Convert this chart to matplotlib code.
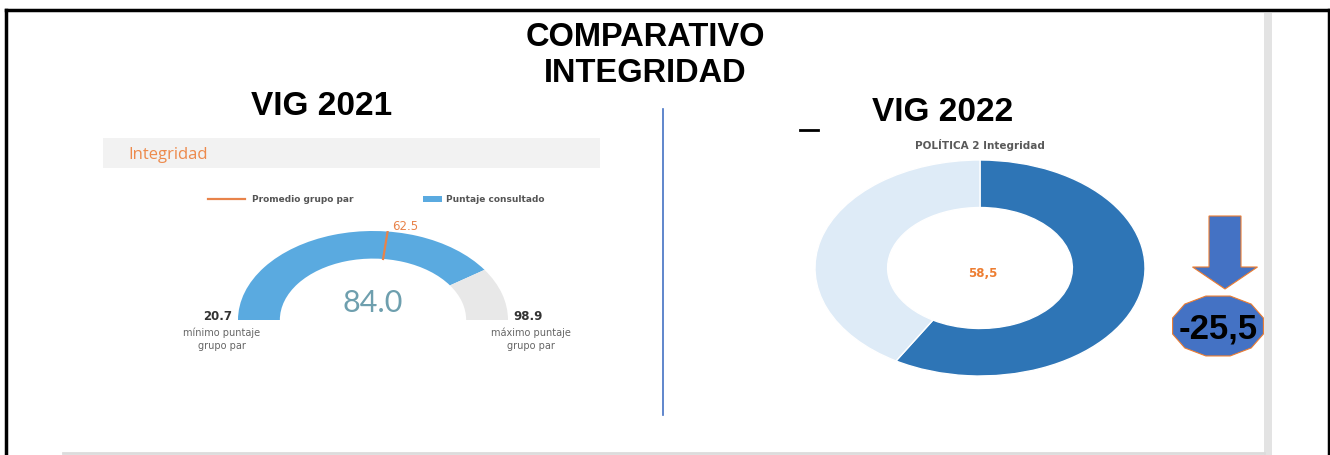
import numpy as np
import matplotlib
matplotlib.use("Agg")
import matplotlib.pyplot as plt
from matplotlib.patches import Rectangle, FancyArrow, Polygon

# --- data ---
gauge_min = 20.7
gauge_max = 98.9
gauge_value = 84.0
gauge_avg = 62.5

donut_value = 58.5
donut_total = 100.0

diff_label = "-25,5"

W, H = 1330, 456
fig = plt.figure(figsize=(W / 100, H / 100), dpi=100)
ax = fig.add_axes([0, 0, 1, 1])
ax.set_xlim(0, W)
ax.set_ylim(H, 0)
ax.axis("off")
ax.set_zorder(10)  # overlay texts above the chart axes
ax.patch.set_alpha(0)


def px_axes(x0, y0, x1, y1):
    # axes placed by pixel box (top-left origin)
    a = fig.add_axes([x0 / W, 1 - y1 / H, (x1 - x0) / W, (y1 - y0) / H])
    a.axis("off")
    return a


# frame lines
ax.plot([6, 6], [11, H], color="black", lw=2.5)
ax.plot([6, 1329], [11, 11], color="black", lw=2.5)
ax.plot([1329, 1329], [11, H], color="black", lw=2.5)
ax.add_patch(Rectangle((1264, 14), 8, H - 14, color="#e3e3e3", lw=0))
ax.plot([63, 1264], [454, 454], color="#dcdcdc", lw=2)

# titles
bold = dict(family="Liberation Sans", weight="bold", color="black")
ax.text(645, 38, "COMPARATIVO", ha="center", va="center", fontsize=23.5, **bold)
ax.text(645, 74, "INTEGRIDAD", ha="center", va="center", fontsize=23.5, **bold)
ax.text(322, 107, "VIG 2021", ha="center", va="center", fontsize=24, **bold)
ax.text(943, 113, "VIG 2022", ha="center", va="center", fontsize=24, **bold)
ax.plot([800, 818], [131, 131], color="black", lw=2)

# separator
ax.plot([663, 663], [110, 416], color="#4472c4", lw=1.2)

# ---- left: gauge ----
ax.add_patch(Rectangle((103, 139), 497, 30, color="#f2f2f2", lw=0))
ax.text(128, 155, "Integridad", ha="left", va="center", fontsize=12,
        family="Open Sans", color="#ed8a4c")

# legend
ax.plot([208, 245], [200, 200], color="#e8834a", lw=1.6)
ax.text(252, 200, "Promedio grupo par", ha="left", va="center", fontsize=6.5,
        color="#555555", weight="bold")
ax.add_patch(Rectangle((423, 197), 19, 6, color="#5aaae0", lw=0))
ax.text(446, 200, "Puntaje consultado", ha="left", va="center", fontsize=6.5,
        color="#555555", weight="bold")

gx = px_axes(373 - 135, 321 - 89, 373 + 135, 321 + 89)
span = gauge_max - gauge_min
gparts = [gauge_value - gauge_min, gauge_max - gauge_value, span]
gx.pie(gparts, colors=["#5aaae0", "#e8e8e8", "none"], startangle=180,
       counterclock=False, radius=1, wedgeprops=dict(width=0.31, lw=0))
gx.set_aspect("auto")
gx.set_xlim(-1, 1)
gx.set_ylim(-1, 1)
theta = np.pi * (1 - (gauge_avg - gauge_min) / span)
gx.plot([0.69 * np.cos(theta), 1.0 * np.cos(theta)],
        [0.69 * np.sin(theta), 1.0 * np.sin(theta)], color="#e8834a", lw=1.6)

ax.text(405, 227, f"{gauge_avg:.1f}", ha="center", va="center", fontsize=8.5,
        color="#e8834a")
ax.text(373, 303, f"{gauge_value:.1f}", ha="center", va="center", fontsize=22,
        family="Lato", color="#6e9fae")
ax.text(218, 317, f"{gauge_min:.1f}", ha="center", va="center", fontsize=8.5,
        weight="bold", color="#333333")
ax.text(222, 333, "mínimo puntaje", ha="center", va="center", fontsize=7,
        color="#666666")
ax.text(222, 346, "grupo par", ha="center", va="center", fontsize=7,
        color="#666666")
ax.text(528, 317, f"{gauge_max:.1f}", ha="center", va="center", fontsize=8.5,
        weight="bold", color="#333333")
ax.text(531, 333, "máximo puntaje", ha="center", va="center", fontsize=7,
        color="#666666")
ax.text(531, 346, "grupo par", ha="center", va="center", fontsize=7,
        color="#666666")

# ---- right: donut ----
ax.text(980, 145, "POLÍTICA 2 Integridad", ha="center", va="center",
        fontsize=7.5, weight="bold", color="#595959")
dx = px_axes(980 - 165, 269 - 108, 980 + 165, 269 + 108)
dx.pie([donut_value, donut_total - donut_value], colors=["#2e75b6", "#deebf7"],
       startangle=90, counterclock=False, radius=1,
       wedgeprops=dict(width=0.44, edgecolor="white", lw=1))
dx.set_aspect("auto")
dx.set_xlim(-1, 1)
dx.set_ylim(-1, 1)
ax.text(983, 274, f"{donut_value:.1f}".replace(".", ","), ha="center",
        va="center", fontsize=8.5, weight="bold", color="#ed7d31")

# arrow + badge
ax.add_patch(FancyArrow(1225, 217, 0, 73, width=32, head_width=65,
                        head_length=22, length_includes_head=True,
                        fc="#4472c4", ec="#ed7d31", lw=0.8))
ang = np.deg2rad(np.arange(12) * 30 + 15)
badge = np.column_stack([1218 + 47 * np.cos(ang), 327 + 31 * np.sin(ang)])
ax.add_patch(Polygon(badge, closed=True, fc="#4472c4", ec="#ed7d31", lw=0.8))
ax.text(1218, 329, diff_label, ha="center", va="center", fontsize=25, **bold)

fig.savefig("out.png", dpi=100)
